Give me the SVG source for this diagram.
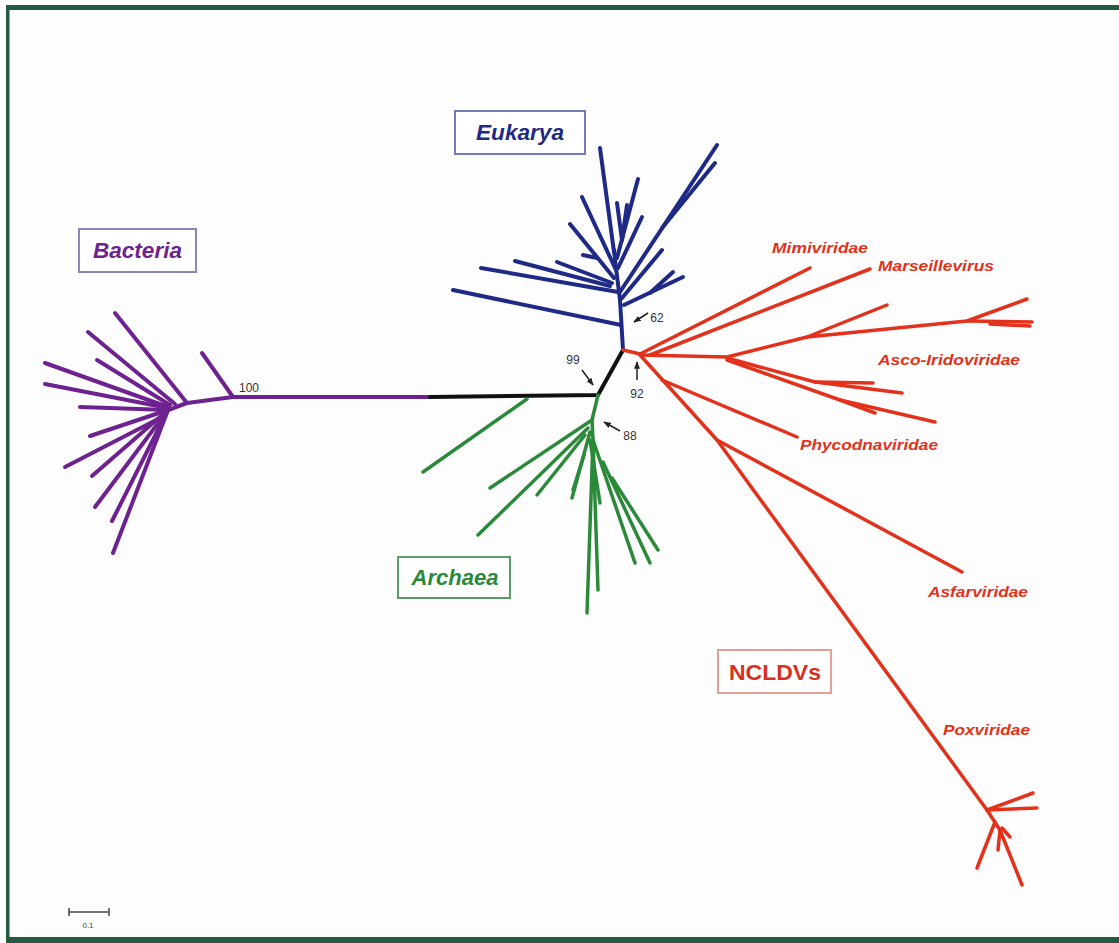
<svg xmlns="http://www.w3.org/2000/svg" width="1119" height="943" viewBox="0 0 1119 943">
<style>
.br{fill:none;stroke-linecap:round;stroke-linejoin:round}
.bac{stroke:#6e2290;stroke-width:4}
.euk{stroke:#1e2a86;stroke-width:4}
.arc{stroke:#2a8a3a;stroke-width:3.5}
.ncl{stroke:#e2321c;stroke-width:3.5}
.blk{stroke:#111;stroke-width:4}
.lbl{font-family:"Liberation Sans",Arial,sans-serif;font-weight:bold;font-style:italic;text-anchor:middle}
.num{font-family:"Liberation Sans",Arial,sans-serif;font-size:12px;fill:#333;text-anchor:middle}
.vir{font-family:"Liberation Sans",Arial,sans-serif;font-weight:bold;font-style:italic;font-size:14px;fill:#e2321c}
.box{fill:#fff;stroke-width:2}
.ptr{stroke:#222;stroke-width:1.5;fill:none}
</style>
<defs>
<marker id="ah" viewBox="0 0 10 10" refX="9" refY="5" markerWidth="5" markerHeight="5" orient="auto"><path d="M0,1 L10,5 L0,9 Z" fill="#222"/></marker>
</defs>
<rect x="0" y="0" width="1119" height="943" fill="#fdfdfe"/>
<g id="frame" fill="#245a44">
<rect x="6" y="5" width="1113" height="5"/>
<rect x="6" y="5" width="3.5" height="938"/>
<rect x="6" y="937" width="1113" height="6"/>
</g>
<g id="connectors">
<g id="tree-bacteria" class="br bac">
<path d="M233,397 L432,397"/>
<path d="M233,397 L202,353"/>
<path d="M233,397 L187,403 L168,410"/>
<path d="M187,403 L115,313"/>
<path d="M175,404 L88,332"/>
<path d="M170,405 L97,360"/>
<path d="M168,407 L45,363"/>
<path d="M168,408 L45,384"/>
<path d="M168,410 L80,407"/>
<path d="M168,410 L90,436"/>
<path d="M160,418 L65,467"/>
<path d="M168,410 L92,476"/>
<path d="M168,410 L95,507"/>
<path d="M168,410 L112,521"/>
<path d="M168,410 L113,553"/>
</g>
<g id="tree-root" class="br blk">
<path d="M430,397 L598,395 L623,350"/>
</g>
<g id="tree-archaea" class="br arc">
<path d="M598,395 L592,420"/>
<path d="M527,399 L423,472"/>
<path d="M592,420 L490,488"/>
<path d="M588,428 L478,535"/>
<path d="M585,435 L537,495"/>
<path d="M590,432 L572,498"/>
<path d="M584,455 L573,490"/>
<path d="M592,420 L593,440 L587,613"/>
<path d="M593,440 L598,590"/>
<path d="M590,440 L600,503"/>
<path d="M593,440 L635,563"/>
<path d="M603,462 L650,563"/>
<path d="M612,478 L658,550"/>
</g>
<g id="tree-eukarya" class="br euk">
<path d="M623,350 L620,300 L616,268 L614,250"/>
<path d="M621,325 L453,290"/>
<path d="M618,292 L481,268"/>
<path d="M610,286 L515,261"/>
<path d="M612,283 L557,262"/>
<path d="M614,278 L570,224"/>
<path d="M597,258 L583,255"/>
<path d="M616,270 L582,197"/>
<path d="M614,252 L600,148"/>
<path d="M617,258 L638,179"/>
<path d="M622,240 L617,203"/>
<path d="M622,240 L627,205"/>
<path d="M618,268 L642,217"/>
<path d="M620,292 L717,145"/>
<path d="M662,228 L715,163"/>
<path d="M622,298 L662,250"/>
<path d="M624,305 L683,277"/>
<path d="M650,293 L673,272"/>
</g>
<g id="tree-ncldv" class="br ncl">
<path d="M623,350 L640,354"/>
<path d="M640,354 L810,268"/>
<path d="M650,355 L870,269"/>
<path d="M640,355 L727,357 L807,337 L967,321 L1027,299"/>
<path d="M807,337 L887,305"/>
<path d="M967,321 L1032,322"/>
<path d="M990,324 L1030,326"/>
<path d="M727,358 L815,382 L902,393"/>
<path d="M815,382 L873,383"/>
<path d="M727,360 L840,400 L875,413"/>
<path d="M840,400 L935,422"/>
<path d="M662,380 L797,437"/>
<path d="M640,355 L717,440 L987,810"/>
<path d="M717,440 L962,572"/>
<path d="M987,810 L1033,793"/>
<path d="M987,810 L1037,808"/>
<path d="M987,810 L1000,830 L1022,885"/>
<path d="M995,822 L977,868"/>
<path d="M1000,830 L998,850"/>
<path d="M1002,828 L1010,837"/>
</g>
<g id="pointers">
<path class="ptr" d="M582,370 L593,385" marker-end="url(#ah)"/>
<path class="ptr" d="M637,380 L637,362" marker-end="url(#ah)"/>
<path class="ptr" d="M648,313 L634,322" marker-end="url(#ah)"/>
<path class="ptr" d="M620,431 L604,422" marker-end="url(#ah)"/>
</g>
</g>
<g id="bacteria">
<rect class="box" x="79" y="229" width="117" height="43" stroke="#8e84b6"/>
<text class="lbl" x="137.5" y="258" font-size="22" fill="#6e2290" textLength="89" lengthAdjust="spacingAndGlyphs">Bacteria</text>
</g>
<g id="eukarya">
<rect class="box" x="455" y="111" width="130" height="43" stroke="#737bb4"/>
<text class="lbl" x="520" y="140" font-size="22" fill="#1e2a86" textLength="88" lengthAdjust="spacingAndGlyphs">Eukarya</text>
</g>
<g id="archaea">
<rect class="box" x="398" y="557" width="112" height="41" stroke="#5c9c6a"/>
<text class="lbl" x="455" y="585" font-size="22" fill="#2a8a3a" textLength="87" lengthAdjust="spacingAndGlyphs">Archaea</text>
</g>
<g id="ncldvs">
<rect class="box" x="718" y="650" width="113" height="43" stroke="#e4a096"/>
<text x="775" y="680" font-family="Liberation Sans, Arial, sans-serif" font-weight="bold" font-size="22" fill="#d8301e" text-anchor="middle" textLength="92" lengthAdjust="spacingAndGlyphs">NCLDVs</text>
</g>
<g id="families">
<text class="vir" x="772" y="253" textLength="96" lengthAdjust="spacingAndGlyphs">Mimiviridae</text>
<text class="vir" x="878" y="271" textLength="116" lengthAdjust="spacingAndGlyphs">Marseillevirus</text>
<text class="vir" x="878" y="365" textLength="142" lengthAdjust="spacingAndGlyphs">Asco-Iridoviridae</text>
<text class="vir" x="800" y="450" textLength="138" lengthAdjust="spacingAndGlyphs">Phycodnaviridae</text>
<text class="vir" x="928" y="597" textLength="100" lengthAdjust="spacingAndGlyphs">Asfarviridae</text>
<text class="vir" x="943" y="735" textLength="87" lengthAdjust="spacingAndGlyphs">Poxviridae</text>
</g>
<g id="support-values">
<text class="num" x="249" y="392">100</text>
<text class="num" x="573" y="364">99</text>
<text class="num" x="637" y="398">92</text>
<text class="num" x="657" y="322">62</text>
<text class="num" x="630" y="440">88</text>
</g>
<g id="scale-bar">
<path d="M69,912 L109,912 M69,908 L69,916 M109,908 L109,916" stroke="#444" stroke-width="1.5" fill="none"/>
<text x="88" y="928" font-family="Liberation Sans, Arial, sans-serif" font-size="8" fill="#444" text-anchor="middle">0.1</text>
</g>
</svg>
